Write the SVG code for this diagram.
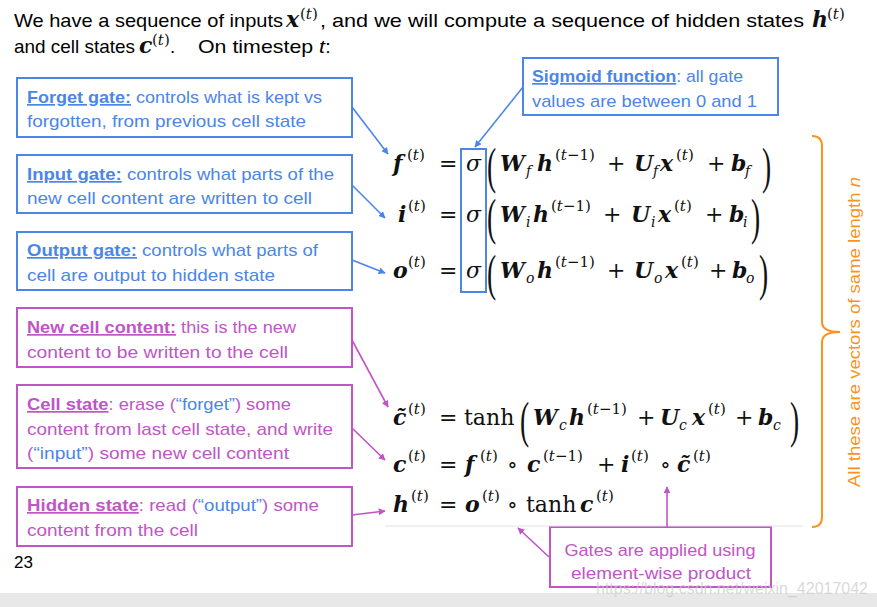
<svg xmlns="http://www.w3.org/2000/svg" width="877" height="607" viewBox="0 0 877 607">
<style>
.t{font-family:"Liberation Sans",Arial,sans-serif;font-size:17px}
.h{font-family:"Liberation Sans",Arial,sans-serif;font-size:19px;fill:#000}
.bl{fill:#4a86e8}.mg{fill:#c055c6}
.b{font-weight:bold;text-decoration:underline}
.bbox{fill:#fff;stroke:#4a86e8;stroke-width:2}
.mbox{fill:#fff;stroke:#c055c6;stroke-width:2}
.m{font-family:"DejaVu Serif",serif;font-size:22px;fill:#111}
.mb{font-weight:bold;font-style:italic}
.it{font-style:italic}
.sp{font-family:"DejaVu Serif",serif;font-size:15px;fill:#111}
.sb{font-family:"DejaVu Serif",serif;font-size:14px;font-style:italic;fill:#111}
.par{font-family:"Liberation Serif","Times New Roman",serif;font-size:50px;fill:#111}
.bc{stroke:#4a86e8;stroke-width:1.6;fill:none;marker-end:url(#ab)}
.mc{stroke:#c055c6;stroke-width:1.6;fill:none;marker-end:url(#am)}
</style>
<defs>
<marker id="ab" viewBox="0 0 10 10" refX="9" refY="5" markerWidth="7" markerHeight="7" orient="auto" markerUnits="userSpaceOnUse"><path d="M0,0 L10,5 L0,10 z" fill="#4a86e8"/></marker>
<marker id="am" viewBox="0 0 10 10" refX="9" refY="5" markerWidth="7" markerHeight="7" orient="auto" markerUnits="userSpaceOnUse"><path d="M0,0 L10,5 L0,10 z" fill="#c055c6"/></marker>
</defs>
<rect width="877" height="607" fill="#fff"/>
<rect x="0" y="593" width="877" height="14" fill="#e8e8e8"/>

<g id="header">
<text class="h" x="14" y="27" textLength="269" lengthAdjust="spacingAndGlyphs">We have a sequence of inputs</text>
<text class="m mb" x="286" y="27" font-size="19">x</text><text class="sp" x="300" y="19" font-size="12">(<tspan font-style="italic">t</tspan>)</text>
<text class="h" x="320" y="27" textLength="484" lengthAdjust="spacingAndGlyphs">, and we will compute a sequence of hidden states</text>
<text class="m mb" x="812" y="27" font-size="19">h</text><text class="sp" x="827" y="19" font-size="12">(<tspan font-style="italic">t</tspan>)</text>
<text class="h" x="14" y="53" textLength="121" lengthAdjust="spacingAndGlyphs">and cell states</text>
<text class="m mb" x="139" y="53" font-size="19">c</text><text class="sp" x="152" y="45" font-size="12">(<tspan font-style="italic">t</tspan>)</text>
<text class="h" x="170" y="53">.</text>
<text class="h" x="198" y="53" textLength="133" lengthAdjust="spacingAndGlyphs">On timestep <tspan font-style="italic">t</tspan>:</text>
</g>

<g id="forget-gate">
<rect class="bbox" x="17" y="78" width="335" height="59"/>
<text class="t bl" x="27" y="103" textLength="295" lengthAdjust="spacingAndGlyphs"><tspan class="b">Forget gate:</tspan> controls what is kept vs</text>
<text class="t bl" x="27" y="127" textLength="279" lengthAdjust="spacingAndGlyphs">forgotten, from previous cell state</text>
</g>
<g id="input-gate">
<rect class="bbox" x="17" y="155" width="335" height="58"/>
<text class="t bl" x="27" y="180" textLength="307" lengthAdjust="spacingAndGlyphs"><tspan class="b">Input gate:</tspan> controls what parts of the</text>
<text class="t bl" x="27" y="204" textLength="285" lengthAdjust="spacingAndGlyphs">new cell content are written to cell</text>
</g>
<g id="output-gate">
<rect class="bbox" x="17" y="232" width="335" height="58"/>
<text class="t bl" x="27" y="256" textLength="291" lengthAdjust="spacingAndGlyphs"><tspan class="b">Output gate:</tspan> controls what parts of</text>
<text class="t bl" x="27" y="281" textLength="248" lengthAdjust="spacingAndGlyphs">cell are output to hidden state</text>
</g>
<g id="new-cell-content">
<rect class="mbox" x="17" y="308" width="335" height="59"/>
<text class="t mg" x="27" y="333" textLength="269" lengthAdjust="spacingAndGlyphs"><tspan class="b">New cell content:</tspan> this is the new</text>
<text class="t mg" x="27" y="358" textLength="261" lengthAdjust="spacingAndGlyphs">content to be written to the cell</text>
</g>
<g id="cell-state">
<rect class="mbox" x="17" y="385" width="335" height="83"/>
<text class="t mg" x="27" y="410" textLength="264" lengthAdjust="spacingAndGlyphs"><tspan class="b">Cell state</tspan>: erase (<tspan class="bl">“forget”</tspan>) some</text>
<text class="t mg" x="27" y="435" textLength="306" lengthAdjust="spacingAndGlyphs">content from last cell state, and write</text>
<text class="t mg" x="27" y="459" textLength="262" lengthAdjust="spacingAndGlyphs">(<tspan class="bl">“input”</tspan>) some new cell content</text>
</g>
<g id="hidden-state">
<rect class="mbox" x="17" y="487" width="335" height="59"/>
<text class="t mg" x="27" y="511" textLength="292" lengthAdjust="spacingAndGlyphs"><tspan class="b">Hidden state</tspan>: read (<tspan class="bl">“output”</tspan>) some</text>
<text class="t mg" x="27" y="536" textLength="171" lengthAdjust="spacingAndGlyphs">content from the cell</text>
</g>
<g id="sigmoid-function">
<rect class="bbox" x="523" y="58" width="255" height="57"/>
<text class="t bl" x="532" y="82" textLength="211" lengthAdjust="spacingAndGlyphs"><tspan class="b">Sigmoid function</tspan>: all gate</text>
<text class="t bl" x="532" y="107" textLength="225" lengthAdjust="spacingAndGlyphs">values are between 0 and 1</text>
</g>
<g id="sigma-box">
<rect x="461" y="149" width="25" height="143" fill="none" stroke="#4a86e8" stroke-width="2"/>
</g>
<g id="gates-product">
<rect class="mbox" x="550" y="527" width="221" height="60"/>
<text class="t mg" x="660" y="556" text-anchor="middle" textLength="191" lengthAdjust="spacingAndGlyphs">Gates are applied using</text>
<text class="t mg" x="661" y="579" text-anchor="middle" textLength="180" lengthAdjust="spacingAndGlyphs">element-wise product</text>
</g>
<g id="page-number"><text class="t" x="14" y="568" fill="#000" font-size="16">23</text></g>

<g id="equations">
<!-- f row -->
<text class="m mb" x="393" y="171">f</text><text class="sp" x="407" y="160">(<tspan class="it">t</tspan>)</text>
<text class="m" x="439" y="171">=</text>
<text class="m it" x="466" y="171">σ</text>
<text class="par" transform="translate(487,183) scale(0.55,1)">(</text>
<text class="m mb" x="500" y="171">W</text><text class="sb" x="526" y="176">f</text>
<text class="m mb" x="537" y="171">h</text><text class="sp" x="555" y="160">(<tspan class="it">t</tspan>−1)</text>
<text class="m" x="607" y="171">+</text>
<text class="m mb" x="634" y="171">U</text><text class="sb" x="653" y="176">f</text>
<text class="m mb" x="660" y="171">x</text><text class="sp" x="676" y="160">(<tspan class="it">t</tspan>)</text>
<text class="m" x="707" y="171">+</text>
<text class="m mb" x="731" y="171">b</text><text class="sb" x="745" y="176">f</text>
<text class="par" transform="translate(762,183) scale(0.55,1)">)</text>
<!-- i row -->
<text class="m mb" x="398" y="222">i</text><text class="sp" x="408" y="211">(<tspan class="it">t</tspan>)</text>
<text class="m" x="439" y="222">=</text>
<text class="m it" x="466" y="222">σ</text>
<text class="par" transform="translate(487,234) scale(0.55,1)">(</text>
<text class="m mb" x="500" y="222">W</text><text class="sb" x="526" y="227">i</text>
<text class="m mb" x="533" y="222">h</text><text class="sp" x="551" y="211">(<tspan class="it">t</tspan>−1)</text>
<text class="m" x="603" y="222">+</text>
<text class="m mb" x="631" y="222">U</text><text class="sb" x="651" y="227">i</text>
<text class="m mb" x="658" y="222">x</text><text class="sp" x="674" y="211">(<tspan class="it">t</tspan>)</text>
<text class="m" x="705" y="222">+</text>
<text class="m mb" x="729" y="222">b</text><text class="sb" x="743" y="227">i</text>
<text class="par" transform="translate(751,234) scale(0.55,1)">)</text>
<!-- o row -->
<text class="m mb" x="393" y="278">o</text><text class="sp" x="408" y="267">(<tspan class="it">t</tspan>)</text>
<text class="m" x="439" y="278">=</text>
<text class="m it" x="466" y="278">σ</text>
<text class="par" transform="translate(487,290) scale(0.55,1)">(</text>
<text class="m mb" x="500" y="278">W</text><text class="sb" x="526" y="283">o</text>
<text class="m mb" x="537" y="278">h</text><text class="sp" x="555" y="267">(<tspan class="it">t</tspan>−1)</text>
<text class="m" x="607" y="278">+</text>
<text class="m mb" x="634" y="278">U</text><text class="sb" x="654" y="283">o</text>
<text class="m mb" x="665" y="278">x</text><text class="sp" x="681" y="267">(<tspan class="it">t</tspan>)</text>
<text class="m" x="709" y="278">+</text>
<text class="m mb" x="732" y="278">b</text><text class="sb" x="746" y="283">o</text>
<text class="par" transform="translate(759,290) scale(0.55,1)">)</text>
<!-- c tilde row -->
<text class="m mb" x="393" y="425">c&#x303;</text><text class="sp" x="408" y="414">(<tspan class="it">t</tspan>)</text>
<text class="m" x="439" y="425">=</text>
<text class="m" x="464" y="425">tanh</text>
<text class="par" transform="translate(520,437) scale(0.55,1)">(</text>
<text class="m mb" x="533" y="425">W</text><text class="sb" x="559" y="430">c</text>
<text class="m mb" x="569" y="425">h</text><text class="sp" x="587" y="414">(<tspan class="it">t</tspan>−1)</text>
<text class="m" x="637" y="425">+</text>
<text class="m mb" x="660" y="425">U</text><text class="sb" x="679" y="430">c</text>
<text class="m mb" x="692" y="425">x</text><text class="sp" x="708" y="414">(<tspan class="it">t</tspan>)</text>
<text class="m" x="735" y="425">+</text>
<text class="m mb" x="758" y="425">b</text><text class="sb" x="773" y="430">c</text>
<text class="par" transform="translate(790,437) scale(0.55,1)">)</text>
<!-- c row -->
<text class="m mb" x="393" y="472">c</text><text class="sp" x="408" y="461">(<tspan class="it">t</tspan>)</text>
<text class="m" x="439" y="472">=</text>
<text class="m mb" x="465" y="472">f</text><text class="sp" x="480" y="461">(<tspan class="it">t</tspan>)</text>
<text class="m" x="507" y="472">∘</text>
<text class="m mb" x="527" y="472">c</text><text class="sp" x="543" y="461">(<tspan class="it">t</tspan>−1)</text>
<text class="m" x="597" y="472">+</text>
<text class="m mb" x="621" y="472">i</text><text class="sp" x="631" y="461">(<tspan class="it">t</tspan>)</text>
<text class="m" x="660" y="472">∘</text>
<text class="m mb" x="677" y="472">c&#x303;</text><text class="sp" x="693" y="461">(<tspan class="it">t</tspan>)</text>
<!-- h row -->
<text class="m mb" x="393" y="512">h</text><text class="sp" x="411" y="501">(<tspan class="it">t</tspan>)</text>
<text class="m" x="439" y="512">=</text>
<text class="m mb" x="465" y="512">o</text><text class="sp" x="482" y="501">(<tspan class="it">t</tspan>)</text>
<text class="m" x="507" y="512">∘</text>
<text class="m" x="526" y="512">tanh</text>
<text class="m mb" x="580" y="512">c</text><text class="sp" x="596" y="501">(<tspan class="it">t</tspan>)</text>
</g>
<line x1="385" y1="526" x2="803" y2="526" stroke="#e3e3e3" stroke-width="1"/>

<g id="brace">
<path d="M812,136 Q822,136 822,146 L822,322 Q822,332 840,332 Q822,332 822,342 L822,517 Q822,527 812,527" fill="none" stroke="#f7931e" stroke-width="2"/>
<text transform="translate(860,332) rotate(-90)" text-anchor="middle" font-family="Liberation Sans, Arial, sans-serif" font-size="17" fill="#f7931e" textLength="310" lengthAdjust="spacingAndGlyphs">All these are vectors of same length <tspan font-style="italic">n</tspan></text>
</g>

<g id="connectors">
<line class="bc" x1="352" y1="107" x2="388" y2="154"/>
<line class="bc" x1="352" y1="185" x2="385" y2="218"/>
<line class="bc" x1="352" y1="260" x2="385" y2="273"/>
<line class="bc" x1="523" y1="87" x2="475" y2="147"/>
<line class="mc" x1="352" y1="340" x2="388" y2="407"/>
<line class="mc" x1="352" y1="428" x2="385" y2="460"/>
<line class="mc" x1="352" y1="515" x2="385" y2="511"/>
<line class="mc" x1="667" y1="527" x2="667" y2="487"/>
<line class="mc" x1="549" y1="557" x2="518" y2="528"/>
</g>
<text x="596" y="594" font-family="Liberation Sans, Arial, sans-serif" font-size="16" fill="#c8c8c8" fill-opacity="0.7" textLength="272" lengthAdjust="spacingAndGlyphs">https://blog.csdn.net/weixin_42017042</text>
</svg>
